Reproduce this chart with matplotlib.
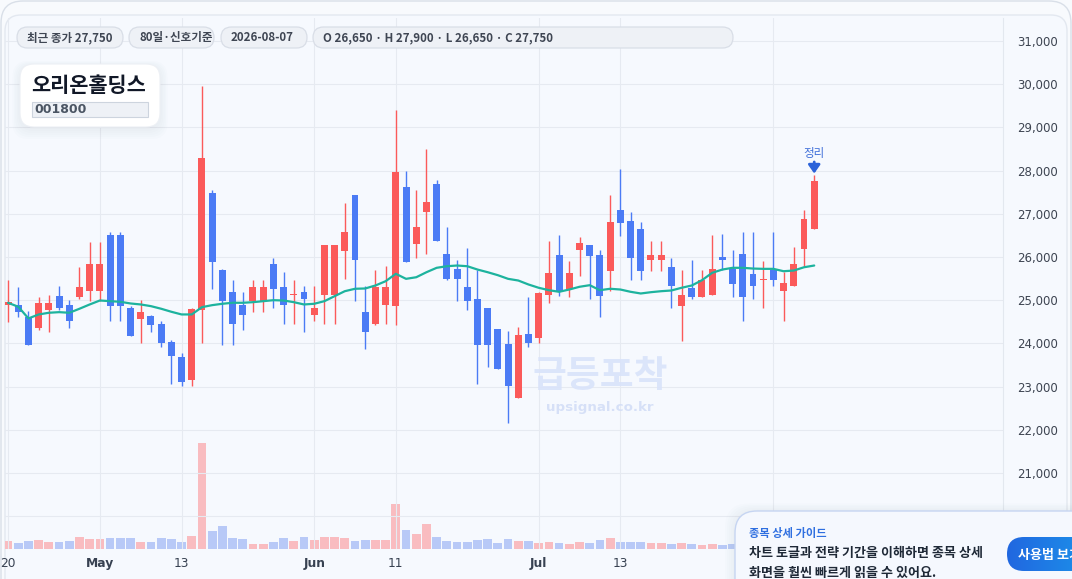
import matplotlib.pyplot as plt
import numpy as np
import pandas as pd
from matplotlib.patches import FancyBboxPatch
from matplotlib.ticker import FuncFormatter

KR = ['Noto Sans CJK KR', 'DejaVu Sans']
plt.rcParams['font.family'] = ['DejaVu Sans', 'Noto Sans CJK KR']

# 80 trading days, Apr 20 - Aug 7 2026
dates = pd.bdate_range('2026-04-20', '2026-08-07')

opens = [24900, 24880, 24620, 24360, 24770, 25090, 24880, 25070, 25210, 25210,
         26500, 26500, 24830, 24560, 24630, 24440, 24030, 23690, 23150, 24770,
         27480, 25690, 25190, 24890, 24980, 24980, 25830, 25300, 25120, 25180,
         24660, 25120, 25120, 26130, 27440, 24730, 24460, 24900, 24860, 27610,
         26310, 27040, 27700, 26080, 25730, 25300, 25040, 24830, 24330, 23980,
         22730, 24230, 24130, 25120, 26040, 25250, 26170, 26290, 26040, 25670,
         27100, 26840, 26640, 25930, 25930, 25780, 24860, 25290, 25070, 25120,
         25990, 25720, 26080, 25600, 25460, 25690, 25210, 25330, 26180, 26650]
highs = [25480, 25300, 24750, 25080, 25130, 25340, 25000, 25780, 26340, 26340,
         26580, 26580, 24870, 25000, 24670, 24530, 24070, 23770, 24830, 29960,
         27540, 25730, 25480, 25190, 25480, 25480, 25980, 25650, 25480, 25340,
         25340, 26290, 26290, 27240, 27440, 25340, 25690, 25790, 29410, 28000,
         27540, 28510, 27790, 26690, 25940, 26200, 25710, 24830, 24330, 24290,
         24370, 25080, 25180, 26380, 26500, 25900, 26460, 26290, 26160, 27440,
         28040, 27050, 26800, 26380, 26380, 25980, 25690, 25940, 25690, 26500,
         26540, 26160, 26590, 26590, 25900, 26590, 25650, 26240, 27100, 27900]
lows = [24490, 24620, 23960, 24310, 24260, 24770, 24360, 25020, 24980, 24980,
        24520, 24520, 24170, 24000, 24260, 23920, 23060, 23020, 23020, 24020,
        25270, 23960, 23960, 24310, 24730, 24730, 24810, 24460, 24460, 24260,
        24520, 24460, 24460, 25500, 24980, 23880, 24430, 24460, 24420, 25880,
        25970, 26060, 26370, 25480, 24980, 24770, 23060, 23460, 23420, 22170,
        22730, 23930, 24020, 24930, 25110, 25070, 25570, 25020, 24610, 25210,
        26480, 25460, 25460, 25670, 25670, 24820, 24060, 25020, 25070, 25120,
        25700, 25070, 24520, 25020, 24810, 25340, 24520, 25330, 25800, 26650]
closes = [24950, 24730, 23960, 24930, 24930, 24810, 24520, 25300, 25830, 25830,
          24860, 24860, 24170, 24740, 24420, 24020, 23710, 23110, 24790, 28300,
          25880, 24980, 24460, 24660, 25300, 25300, 25270, 24900, 25140, 25020,
          24830, 26290, 26290, 26590, 25930, 24260, 25300, 25300, 27960, 25880,
          26690, 27280, 26370, 25500, 25500, 24980, 23960, 23960, 23420, 23020,
          24190, 24020, 25170, 25640, 25190, 25640, 26330, 26020, 25110, 26800,
          26780, 25970, 25670, 26040, 26040, 25330, 25130, 25070, 25480, 25730,
          25930, 25370, 25070, 25330, 25480, 25460, 25390, 25830, 26890, 27750]
ma_line = [24942, 24850, 24580, 24672, 24711, 24725, 24711, 24804, 24903, 24995,
           24979, 24965, 24926, 24903, 24864, 24804, 24734, 24672, 24672, 24841,
           24887, 24919, 24942, 24942, 24956, 24979, 25002, 24995, 24956, 24903,
           24919, 24979, 25095, 25210, 25266, 25273, 25342, 25441, 25612, 25496,
           25533, 25649, 25751, 25788, 25804, 25788, 25711, 25649, 25580, 25496,
           25457, 25365, 25289, 25233, 25196, 25249, 25312, 25349, 25233, 25266,
           25249, 25196, 25157, 25187, 25210, 25226, 25289, 25342, 25464, 25635,
           25711, 25751, 25751, 25734, 25727, 25727, 25672, 25688, 25764, 25804]
volume_k = [25, 19, 25, 28, 22, 22, 25, 37, 31, 31,
            34, 34, 34, 22, 22, 34, 31, 22, 40, 320,
            53, 70, 34, 31, 16, 16, 22, 34, 25, 37,
            28, 37, 37, 34, 25, 28, 28, 28, 136, 58,
            46, 76, 37, 25, 22, 22, 28, 31, 19, 31,
            25, 25, 19, 22, 19, 16, 22, 19, 28, 34,
            22, 22, 22, 19, 19, 16, 19, 16, 13, 16,
            13, 16, 18, 16, 15, 16, 20, 22, 30, 35]

tick_idx = [0, 9, 17, 30, 38, 52, 60, 75]
hidden_ticks = [75]   # sits under the guide popup in the reference

RED = '#fb5a5a'
BLUE = '#4b7bf5'
RED_V = '#f9bcc0'
BLUE_V = '#b8c9f7'
TEAL = '#1db39e'
TXT = '#3d4451'

W, H = 1072, 579


def px_rect(x0, y0, x1, y1):
    return [x0 / W, 1 - y1 / H, (x1 - x0) / W, (y1 - y0) / H]


fig = plt.figure(figsize=(W / 100, H / 100), dpi=100)
fig.patch.set_facecolor('#f8fafd')

# background panels
bg = fig.add_axes([0, 0, 1, 1], zorder=0)
bg.set_xlim(0, W)
bg.set_ylim(H, 0)
bg.axis('off')
bg.add_patch(FancyBboxPatch((1, 1), W - 2, H + 40, boxstyle='round,pad=0,rounding_size=22',
                            fc='#f8fafd', ec='#d9dfe8', lw=1))
bg.add_patch(FancyBboxPatch((5, 15), 1062, H + 40, boxstyle='round,pad=0,rounding_size=16',
                            fc='#f6f9fe', ec='#e3e8f0', lw=1))

# price axes + volume axes
ax = fig.add_axes(px_rect(5, 18, 1003, 549))
axv = ax.twinx()
axv.set_zorder(1)
ax.set_zorder(2)
ax.patch.set_visible(False)
axv.patch.set_visible(False)

x = np.arange(len(dates))
o = np.array(opens)
c = np.array(closes)
up = c >= o
colors = np.where(up, RED, BLUE)
vcolors = np.where(up, RED_V, BLUE_V)

axv.bar(x, volume_k, width=0.86, color=vcolors, zorder=2)
axv.set_ylim(0, 1596)
axv.set_yticks([])
for s in axv.spines.values():
    s.set_visible(False)

ax.vlines(x, lows, highs, colors=colors, lw=1.0, zorder=3)
ax.bar(x, np.maximum(np.abs(c - o), 25), bottom=np.minimum(o, c), width=0.68,
       color=colors, zorder=4)
ax.plot(x, ma_line, color=TEAL, lw=1.6, zorder=5, solid_capstyle='round')

ax.set_xlim(-0.3, 97.5)
ax.set_ylim(19245, 31531)
ax.set_yticks(range(20000, 31001, 1000))
ax.yaxis.set_major_formatter(FuncFormatter(lambda v, p: f'{int(v):,}'))
ax.yaxis.tick_right()
ax.tick_params(axis='y', length=0, pad=10, labelsize=8.5, labelcolor=TXT)

tick_lbl = []
for i in tick_idx:
    if i in hidden_ticks:
        tick_lbl.append('')
    elif i > 0 and dates[i].month != dates[i - 1].month:
        tick_lbl.append(dates[i].strftime('%b'))
    else:
        tick_lbl.append(str(dates[i].day))
ax.set_xticks(tick_idx)
ax.set_xticklabels(tick_lbl)
ax.tick_params(axis='x', length=0, pad=6, labelsize=8.8, labelcolor='#374151')
for lbl in ax.get_xticklabels():
    if lbl.get_text() and not lbl.get_text().isdigit():
        lbl.set_fontweight('bold')

ax.grid(True, color='#e6eaf1', lw=0.8)
ax.set_axisbelow(True)
for side in ['top', 'left', 'bottom']:
    ax.spines[side].set_visible(False)
ax.spines['right'].set_color('#e3e8ef')

# marker on last candle
ax.annotate('', xy=(x[-1], highs[-1]), xytext=(0, 13), textcoords='offset pixels',
            arrowprops=dict(arrowstyle='-|>,head_width=0.35,head_length=0.5', color='#2b62d9',
                            lw=2, shrinkA=0, shrinkB=1), zorder=6)
ax.annotate('정리', xy=(x[-1], highs[-1]), xytext=(0, 21), textcoords='offset pixels',
            ha='center', va='center', fontsize=8.3, color='#3f6fd9', family=KR, zorder=6)

# overlay decorations in pixel coords
ov = fig.add_axes([0, 0, 1, 1], zorder=5)
ov.set_xlim(0, W)
ov.set_ylim(H, 0)
ov.axis('off')

ov.text(600, 377, '급등포착', ha='center', va='center', fontsize=26.5, fontweight='bold',
        color='#d9e3fa', family=KR, alpha=0.9)
ov.text(600, 407, 'upsignal.co.kr', ha='center', va='center', fontsize=9.6, fontweight='bold',
        color='#d3def7', alpha=0.9)

pills = [(17, 123, f'최근 종가 {closes[-1]:,}'),
         (129, 214, f'{len(dates)}일·신호기준'),
         (221, 307, dates[-1].strftime('%Y-%m-%d')),
         (313, 733, f'O {opens[-1]:,} · H {highs[-1]:,} · L {lows[-1]:,} · C {closes[-1]:,}')]
for x0, x1, txt in pills:
    ov.add_patch(FancyBboxPatch((x0, 27), x1 - x0, 21, boxstyle='round,pad=0,rounding_size=10.5',
                                fc='#eef1f6', ec='#d9dee7', lw=0.9))
    ov.text(x0 + 10, 37.8, txt, ha='left', va='center', fontsize=8.3, fontweight='bold',
            color='#3f4653', family=KR)

# title card
for k in range(6):
    ov.add_patch(FancyBboxPatch((20 - k * 1.5, 66 - k * 1.0), 140 + k * 3, 63 + k * 3,
                                boxstyle='round,pad=0,rounding_size=16', fc='#8a99b5',
                                ec='none', alpha=0.018))
ov.add_patch(FancyBboxPatch((20, 64), 140, 63, boxstyle='round,pad=0,rounding_size=14',
                            fc='white', ec='#edf0f5', lw=0.8))
ov.text(31, 86, '오리온홀딩스', ha='left', va='center', fontsize=15, fontweight='bold',
        color='#111827', family=KR)
ov.add_patch(FancyBboxPatch((32, 102), 116, 15, boxstyle='square,pad=0',
                            fc='#eef1f6', ec='#cdd4de', lw=0.8))
ov.text(34.5, 109.8, '001800', ha='left', va='center', fontsize=9, fontweight='bold',
        color='#4b5563')

# guide popup
for k in range(6):
    ov.add_patch(FancyBboxPatch((735 - k * 2, 511 - k * 1.5), 400, 120,
                                boxstyle='round,pad=0,rounding_size=24', fc='#8a99b5',
                                ec='none', alpha=0.02))
ov.add_patch(FancyBboxPatch((735, 511), 400, 120, boxstyle='round,pad=0,rounding_size=22',
                            fc='#f5f8fe', ec='#c6d5f2', lw=1))
ov.text(749, 534, '종목 상세 가이드', ha='left', va='center', fontsize=8.1, fontweight='bold',
        color='#2f6fe0', family=KR)
ov.text(749, 553, '차트 토글과 전략 기간을 이해하면 종목 상세', ha='left', va='center',
        fontsize=9.4, fontweight='bold', color='#1f2937', family=KR)
ov.text(749, 573, '화면을 훨씬 빠르게 읽을 수 있어요.', ha='left', va='center',
        fontsize=9.4, fontweight='bold', color='#1f2937', family=KR)

btn = FancyBboxPatch((1007, 537), 120, 34, boxstyle='round,pad=0,rounding_size=17',
                     fc='none', ec='none')
ov.add_patch(btn)
grad = np.linspace(0, 1, 256).reshape(1, -1)
cmap = plt.matplotlib.colors.LinearSegmentedColormap.from_list('btn', ['#2167e0', '#1aa3ee'])
im = ov.imshow(grad, extent=(1007, 1127, 571, 537), cmap=cmap, aspect='auto', zorder=3)
im.set_clip_path(btn)
ov.text(1018, 554.5, '사용법 보기', ha='left', va='center', fontsize=9.4, fontweight='bold',
        color='white', family=KR, zorder=4)
ov.set_xlim(0, W)
ov.set_ylim(H, 0)

fig.savefig('out.png', dpi=100, facecolor=fig.get_facecolor())
